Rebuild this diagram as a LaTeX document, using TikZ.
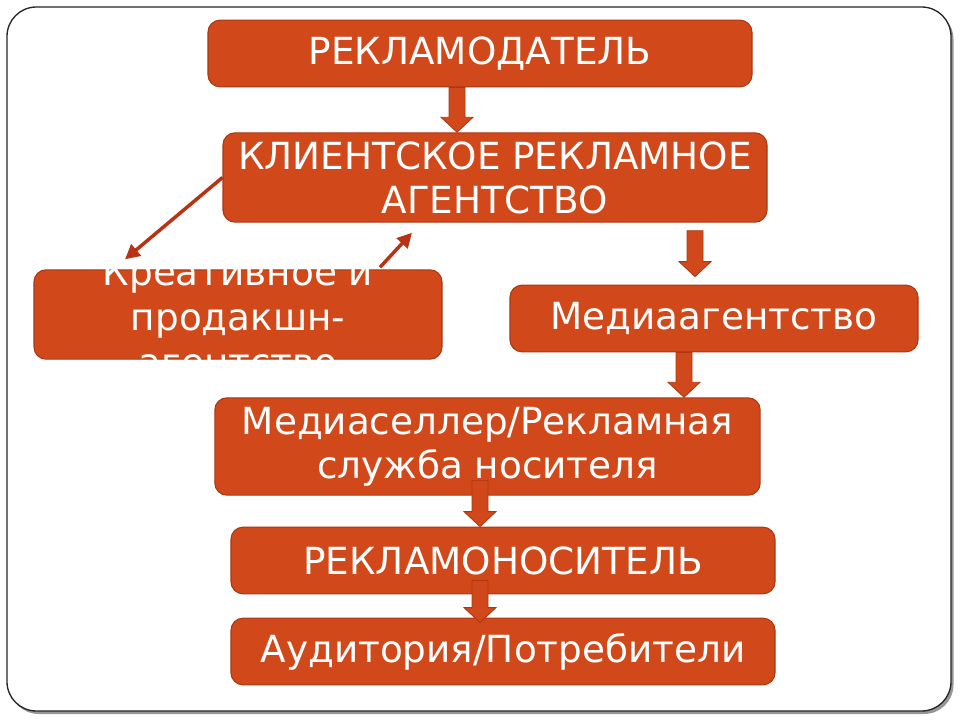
\documentclass[tikz,border=0pt]{standalone}
\usepackage{fontspec}
\setmainfont{DejaVu Sans}
\usepackage{tikz}
\usetikzlibrary{arrows.meta, positioning, calc}
\definecolor{boxfill}{RGB}{209, 73, 26}
\definecolor{boxline}{RGB}{170, 56, 20}
\definecolor{arrline}{RGB}{185, 50, 20}
\definecolor{shadowgray}{RGB}{150, 150, 150}

% block arrow between two points (start, tip)
\newcommand{\blockarr}[2]{%
  \draw[barrow] ($(#1)+(-8,0)$) -- ($(#2)+(-8,-15)$) -- ($(#2)+(-16,-15)$)
    -- (#2) -- ($(#2)+(16,-15)$) -- ($(#2)+(8,-15)$) -- ($(#1)+(8,0)$) -- cycle;}

\begin{document}
\begin{tikzpicture}[x=0.75pt, y=-0.75pt,
        box/.style={draw=boxline, fill=boxfill, line width=0.8pt, rounded corners=9pt,
            text=white, align=center, inner sep=0pt,
            font=\fontsize{28}{33}\selectfont},
        wide/.style={box, minimum width=408pt, minimum height=50pt},
        half/.style={box, minimum width=306pt, minimum height=50pt},
        barrow/.style={draw=boxline, fill=boxfill, line width=0.6pt},
        arr/.style={draw=arrline, line width=2.6pt, -{Triangle[length=11pt, width=11pt]}}
    ]
    \useasboundingbox (0,0) rectangle (960,720);

    % Frame with shadow
    \fill[shadowgray, rounded corners=22pt] (9.5,10) rectangle (953.5,714);
    \draw[fill=white, draw=black!85, line width=1pt, rounded corners=22pt] (7,7) rectangle (951,711);

    % Boxes
    \node[wide] (adv) at (480, 53.5) {РЕКЛАМОДАТЕЛЬ};
    \node[wide, minimum height=67pt] (client) at (495, 177.5) {КЛИЕНТСКОЕ РЕКЛАМНОЕ\\АГЕНТСТВО};
    \node[half, minimum height=67pt] (creative) at (238, 314.5) {};
    \node[half] (media) at (714, 318.5) {Медиаагентство};
    \node[wide, minimum width=409pt, minimum height=73pt] (seller) at (487.5, 446.5) {Медиаселлер/Рекламная\\служба носителя};
    \node[wide] (carrier) at (503, 560.5) {РЕКЛАМОНОСИТЕЛЬ};
    \node[wide] (audience) at (503, 651.5) {Аудитория/Потребители};

    % Text of the creative box (runs over its edges)
    \node[text=white, align=center, font=\fontsize{28}{34}\selectfont] (creativetext) at (238, 317)
        {Креативное и\\продакшн-\\агентство};

    % Columns of the block arrows
    \coordinate (c1) at (457, 0);
    \coordinate (c2) at (695, 0);
    \coordinate (c3) at (684, 0);
    \coordinate (c4) at (480, 0);

    % Block arrows
    \coordinate (a2s) at ($(client.south -| c2)+(0,8)$);
    \coordinate (a2t) at ($(media.north -| c2)+(0,-8)$);
    \coordinate (a4s) at ($(seller.south -| c4)+(0,-15)$);
    \coordinate (a5s) at ($(carrier.south -| c4)+(0,-14)$);
    \coordinate (a5t) at ($(audience.north -| c4)+(0,5)$);
    \blockarr{adv.south -| c1}{client.north -| c1}
    \blockarr{a2s}{a2t}
    \blockarr{media.south -| c3}{seller.north -| c3}
    \blockarr{a4s}{carrier.north -| c4}
    \blockarr{a5s}{a5t}

    % Arrows to and from the creative agency
    \coordinate (cr1) at ($(creative.north)+(-113,-10)$);
    \coordinate (cr2) at ($(creative.north)+(142,-2)$);
    \coordinate (cl2) at ($(client.south -| 412,0)+(0,10)$);
    \draw[arr] (client.west) -- (cr1);
    \draw[arr] (cr2) -- (cl2);
\end{tikzpicture}
\end{document}
